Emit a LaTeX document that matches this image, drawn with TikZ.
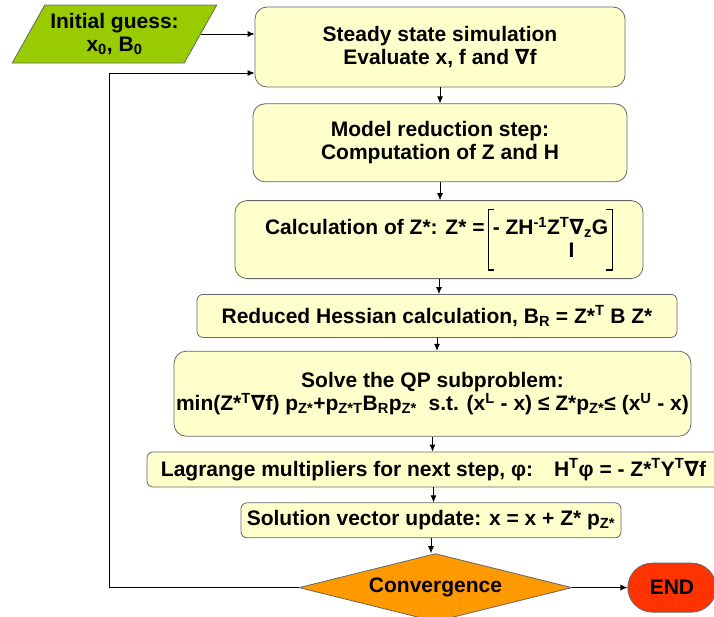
\documentclass[tikz,border=0pt]{standalone}
\usepackage{fontspec}
\setmainfont{Liberation Sans}
\newfontfamily\dejavu{DejaVu Sans}
\usetikzlibrary{positioning,shapes.geometric,shapes.misc,arrows.meta}
\definecolor{boxfill}{HTML}{FFFFCC}
\definecolor{guessgreen}{HTML}{99CC00}
\definecolor{convorange}{HTML}{FF9900}
\definecolor{endred}{HTML}{FF3300}
\newcommand{\nab}{{\dejavu\bfseries ∇}}
\newcommand{\pz}{p\textsubscript{Z*}}
% square brackets of the Z* matrix
\newcommand{\lbrk}{\rlap{\raisebox{24.8pt}{\rule{6pt}{1.2pt}}}\rlap{\raisebox{-36pt}{\rule{6pt}{1.2pt}}}\rule[-36pt]{1.2pt}{62pt}}
\newcommand{\rbrk}{\llap{\raisebox{24.8pt}{\rule{6pt}{1.2pt}}}\llap{\raisebox{-36pt}{\rule{6pt}{1.2pt}}}\rule[-36pt]{1.2pt}{62pt}}
\tikzset{
  box/.style={draw=black!60,fill=boxfill,rounded corners=12pt,align=center,
    font=\bfseries\fontsize{21}{23}\selectfont,inner sep=2pt},
  slim/.style={box,rounded corners=6pt},
}

\begin{document}
\begin{tikzpicture}[x=1pt,y=-1pt,line width=0.8pt,>={Latex[length=7pt,width=6pt]}]
  \useasboundingbox (0,0) rectangle (714,616);

  \node[box,minimum width=370pt,minimum height=80pt] (steady) at (440,47)
    {Steady state simulation\\Evaluate x, f and \nab f};
  \node[box,minimum width=374pt,minimum height=78pt,below=16pt of steady] (reduce)
    {Model reduction step:\\Computation of Z and H};
  \node[box,minimum width=408pt,minimum height=78pt,below=18pt of reduce,xshift=-1pt] (zstar)
    {Calculation of Z*: Z* =\,\lbrk\begin{tabular}[t]{@{\,}c@{\,}}%
      - ZH\textsuperscript{-1}Z\textsuperscript{T}\nab\textsubscript{z}G\\
      \hspace{2em}I\end{tabular}\rbrk};
  \node[slim,minimum width=480pt,minimum height=43pt,below=15pt of zstar,xshift=-2pt] (hessian)
    {Reduced Hessian calculation, B\textsubscript{R} = Z*\textsuperscript{T} B Z*};
  \node[box,minimum width=509pt,minimum height=85pt,below=13pt of hessian,xshift=-4.5pt] (qp)
    {Solve the QP subproblem:\\
     min(Z*\textsuperscript{T}\nab f) \pz+p\textsubscript{Z*T}B\textsubscript{R}\pz\ \ s.t. (x\textsuperscript{L} - x) ≤ Z*\pz≤ (x\textsuperscript{U} - x)};
  \node[slim,minimum width=573pt,minimum height=35pt,below=15pt of qp,xshift=1pt] (lagr)
    {Lagrange multipliers for next step, φ:\quad H\textsuperscript{T}φ = - Z*\textsuperscript{T}Y\textsuperscript{T}\nab f};
  \node[slim,minimum width=380pt,minimum height=35pt,below=15pt of lagr,xshift=-2.5pt] (update)
    {Solution vector update: x = x + Z* \pz};
  \node[diamond,aspect=4,inner sep=0pt,draw=black!60,fill=convorange,minimum width=273pt,
    minimum height=68pt,font=\bfseries\fontsize{21}{23}\selectfont,below=15pt of update,xshift=4.5pt] (conv)
    {Convergence};
  \node[rounded rectangle,draw=black!60,fill=endred,minimum width=95pt,minimum height=49pt,
    font=\bfseries\fontsize{21}{23}\selectfont,right=55pt of conv] (stop) {END};

  \node[trapezium,trapezium left angle=55,trapezium right angle=125,trapezium stretches=true,
    draw=black!60,fill=guessgreen,minimum width=205pt,minimum height=58pt,align=center,
    inner sep=1pt,font=\bfseries\fontsize{21}{23}\selectfont] (guess) at (114.5,34)
    {Initial guess:\\x\textsubscript{0}, B\textsubscript{0}};

  \coordinate (back) at (109,73);

  \draw[->] (guess.east) -- (guess.east -| steady.west);
  \foreach \a/\b in {steady/reduce,reduce/zstar,zstar/hessian,hessian/qp,qp/lagr,lagr/update,update/conv}
    \draw[->] (\a.south) -- (\a.south |- \b.north);
  \draw[->] (conv.east) -- (stop.west);
  \draw[->] (conv.west) -| (back) -- (back -| steady.west);
\end{tikzpicture}
\end{document}
